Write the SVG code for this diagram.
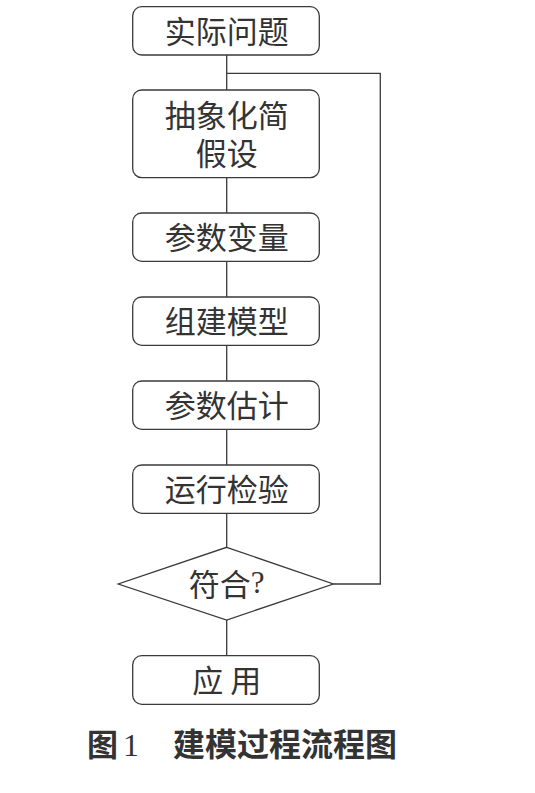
<svg xmlns="http://www.w3.org/2000/svg" width="535" height="793" viewBox="0 0 535 793">
<style>
.box{fill:#fff;stroke:#3a3a3a;stroke-width:1.3}
.t{font-family:"Noto Sans CJK SC","Noto Sans",sans-serif;font-size:31px;fill:#333;text-anchor:middle;dominant-baseline:central}
.c{stroke:#3a3a3a;stroke-width:1.3;fill:none}
.cap{font-family:"Noto Sans CJK SC","Liberation Serif",serif;font-size:31px;fill:#333;font-weight:bold}
</style>
<rect width="535" height="793" fill="#fff"/>
<g id="connectors">
<line class="c" x1="226.7" y1="55" x2="226.7" y2="90"/>
<line class="c" x1="226.7" y1="178" x2="226.7" y2="213"/>
<line class="c" x1="226.7" y1="261" x2="226.7" y2="297"/>
<line class="c" x1="226.7" y1="345" x2="226.7" y2="381"/>
<line class="c" x1="226.7" y1="429" x2="226.7" y2="465"/>
<line class="c" x1="226.7" y1="513" x2="226.7" y2="547"/>
<line class="c" x1="226.7" y1="620" x2="226.7" y2="656"/>
<polyline class="c" points="333.3,584 380.3,584 380.3,73.3 226.7,73.3"/>
</g>
<g id="n1"><rect class="box" x="132.7" y="6.7" width="186.6" height="48.3" rx="9"/><text class="t" x="226.7" y="29.5">实际问题</text></g>
<g id="n2"><rect class="box" x="132.7" y="90" width="186.6" height="87.7" rx="9"/><text class="t" x="226.7" y="113"><tspan x="226.7" y="113">抽象化简</tspan><tspan x="226.7" y="151">假设</tspan></text></g>
<g id="n3"><rect class="box" x="132.7" y="213" width="186.6" height="48.3" rx="9"/><text class="t" x="226.7" y="235.5">参数变量</text></g>
<g id="n4"><rect class="box" x="132.7" y="297" width="186.6" height="48.3" rx="9"/><text class="t" x="226.7" y="319.5">组建模型</text></g>
<g id="n5"><rect class="box" x="132.7" y="381" width="186.6" height="48.3" rx="9"/><text class="t" x="226.7" y="403.5">参数估计</text></g>
<g id="n6"><rect class="box" x="132.7" y="465" width="186.6" height="48.3" rx="9"/><text class="t" x="226.7" y="487.5">运行检验</text></g>
<g id="n7"><polygon class="box" points="226.7,547.3 333.3,584 226.7,620 118.3,584"/><text class="t" x="226.7" y="582">符合<tspan style="font-family:'Liberation Serif',serif">?</tspan></text></g>
<g id="n8"><rect class="box" x="132.7" y="655.7" width="186.6" height="48.6" rx="9"/><text class="t" x="226.7" y="678.5">应  用</text></g>
<g id="caption"><text class="cap" x="87" y="756">图</text><text class="cap" x="123" y="756" style="font-family:'Liberation Serif',serif;font-weight:normal;font-size:32px">1</text><text class="cap" x="173" y="756" style="font-size:32px">建模过程流程图</text></g>
</svg>
